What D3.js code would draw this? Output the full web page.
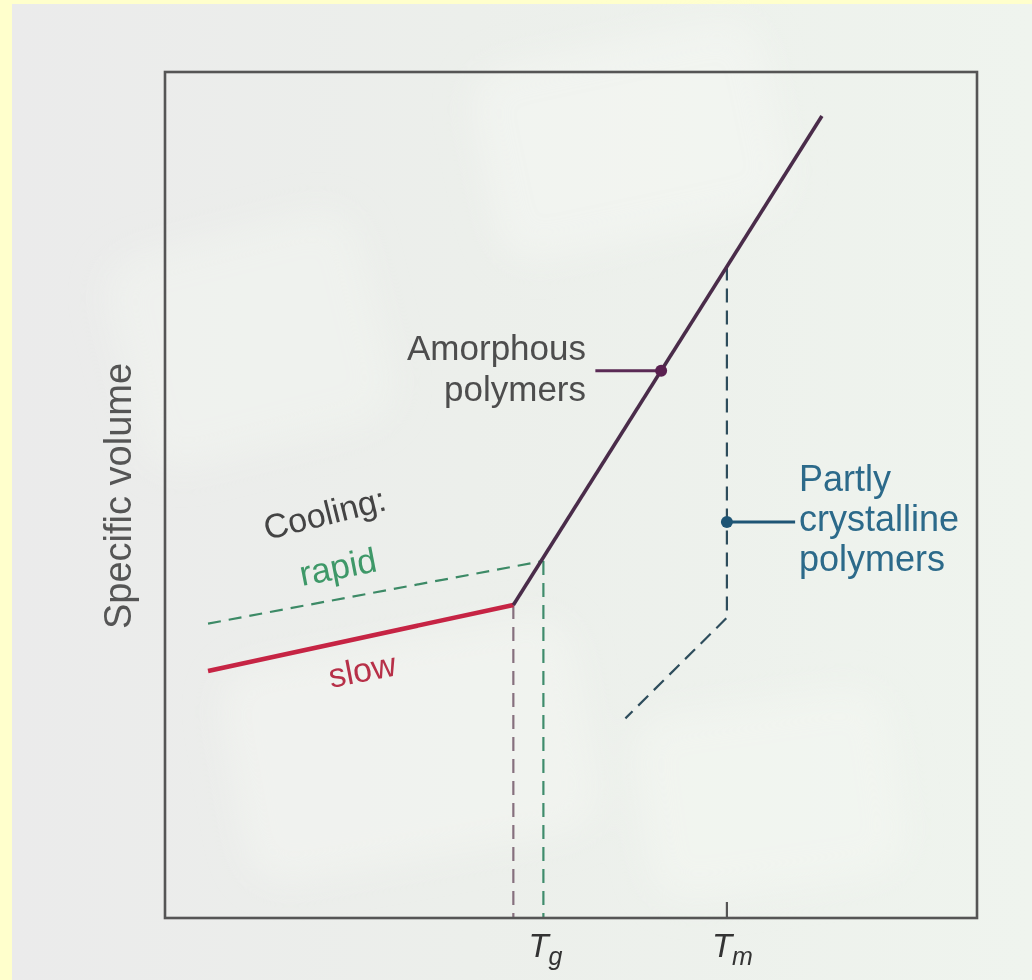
<!DOCTYPE html>
<html>
<head>
<meta charset="utf-8">
<script src="https://cdn.jsdelivr.net/npm/d3@7"></script>
<style>
  html, body { margin: 0; padding: 0; background: #ffffcc; }
  svg { display: block; }
  text { font-family: "Liberation Sans", Arial, sans-serif; }
</style>
</head>
<body>
<svg id="chart" width="1032" height="980"></svg>
<script>
// temperature (x) and specific volume (y), both on a 0-100 arbitrary scale
const slowGlass = [[5.3, 29.2], [42.9, 37.0]]
const rapidGlass = [[5.3, 34.8], [46.6, 42.2]]
const melt = [[42.9, 37.0], [80.9, 94.8]]
const crystalline = [[69.2, 77.0], [69.2, 35.5], [56.7, 23.6]]
const tgSlow = 42.9
const tgRapid = 46.6
const tm = 69.2
const amorphousMark = [61.1, 64.7]
const crystallineMark = [69.2, 46.8]
const xTicks = [{ t: tgRapid, sub: 'g' }, { t: tm, sub: 'm' }]

const svg = d3.select('#chart')

// background panel
const defs = svg.append('defs')
const grad = defs.append('linearGradient')
    .attr('id', 'bg')
    .attr('x1', 0).attr('x2', 1).attr('y1', 0).attr('y2', 0)
grad.append('stop').attr('offset', '0%').attr('stop-color', '#ebebeb')
grad.append('stop').attr('offset', '45%').attr('stop-color', '#ecefeb')
grad.append('stop').attr('offset', '100%').attr('stop-color', '#eff4ee')
defs.append('filter').attr('id', 'blur')
    .append('feGaussianBlur').attr('stdDeviation', 18)

svg.append('rect')
    .attr('x', 12).attr('y', 4)
    .attr('width', 1020).attr('height', 976)
    .attr('fill', 'url(#bg)')

// faint blurry shapes behind the plot
const blobs = svg.append('g').attr('filter', 'url(#blur)').attr('opacity', 0.5)
blobs.append('rect').attr('x', 480).attr('y', 40).attr('width', 300).attr('height', 200)
    .attr('rx', 40).attr('fill', '#f6f8f4').attr('transform', 'rotate(-12 630 140)')
blobs.append('rect').attr('x', 120).attr('y', 230).attr('width', 260).attr('height', 220)
    .attr('rx', 40).attr('fill', '#f3f6f1').attr('transform', 'rotate(-14 250 340)')
blobs.append('rect').attr('x', 230).attr('y', 640).attr('width', 360).attr('height', 220)
    .attr('rx', 40).attr('fill', '#f5f7f3').attr('transform', 'rotate(-10 410 750)')
blobs.append('rect').attr('x', 640).attr('y', 700).attr('width', 260).attr('height', 190)
    .attr('rx', 40).attr('fill', '#f5f8f3').attr('transform', 'rotate(-8 770 800)')

const x = d3.scaleLinear().domain([0, 100]).range([165, 977])
const y = d3.scaleLinear().domain([0, 100]).range([918, 72])
const line = d3.line().x(d => x(d[0])).y(d => y(d[1]))

// dashed drop lines to the T axis
const drops = [
    { pts: [[tgSlow, 37.0], [tgSlow, 0]], color: '#86707e' },
    { pts: [[tgRapid, 42.2], [tgRapid, 0]], color: '#3f8c6c' }
]
svg.selectAll('path.drop')
    .data(drops)
    .enter()
    .append('path')
    .attr('class', 'drop')
    .attr('d', d => line(d.pts))
    .attr('fill', 'none')
    .attr('stroke', d => d.color)
    .attr('stroke-width', 2.2)
    .attr('stroke-dasharray', '14,8')

// rapid cooling (dashed green)
svg.append('path')
    .attr('d', line(rapidGlass))
    .attr('fill', 'none')
    .attr('stroke', '#3c8a66')
    .attr('stroke-width', 2.2)
    .attr('stroke-dasharray', '13,8')

// partly crystalline path
svg.append('path')
    .attr('d', line(crystalline))
    .attr('fill', 'none')
    .attr('stroke', '#2e4d5c')
    .attr('stroke-width', 2.2)
    .attr('stroke-dasharray', '14,8')

// slow cooling (red)
svg.append('path')
    .attr('d', line(slowGlass))
    .attr('fill', 'none')
    .attr('stroke', '#c62444')
    .attr('stroke-width', 4.5)

// melt / rubbery line
svg.append('path')
    .attr('d', line(melt))
    .attr('fill', 'none')
    .attr('stroke', '#4a2c4a')
    .attr('stroke-width', 3.6)

// plot frame
svg.append('rect')
    .attr('x', x(0)).attr('y', y(100))
    .attr('width', x(100) - x(0)).attr('height', y(0) - y(100))
    .attr('fill', 'none')
    .attr('stroke', '#555')
    .attr('stroke-width', 2.6)

// Tm tick
svg.append('line')
    .attr('x1', x(tm)).attr('x2', x(tm))
    .attr('y1', y(0)).attr('y2', y(0) - 16)
    .attr('stroke', '#555')
    .attr('stroke-width', 2.2)

// T labels
const tl = svg.selectAll('text.tlab')
    .data(xTicks)
    .enter()
    .append('text')
    .attr('class', 'tlab')
    .attr('x', d => x(d.t) - 15)
    .attr('y', 957)
    .attr('font-size', 33)
    .attr('font-style', 'italic')
    .attr('fill', '#333')
tl.append('tspan').text('T')
tl.append('tspan')
    .attr('font-size', 25)
    .attr('dy', 8)
    .text(d => d.sub)

// y axis title
svg.append('text')
    .attr('transform', 'translate(131,496) rotate(-90)')
    .attr('text-anchor', 'middle')
    .attr('font-size', 38)
    .attr('fill', '#555')
    .text('Specific volume')

// amorphous label + leader
svg.append('line')
    .attr('x1', x(53.0)).attr('x2', x(amorphousMark[0]))
    .attr('y1', y(amorphousMark[1])).attr('y2', y(amorphousMark[1]))
    .attr('stroke', '#5a2a55')
    .attr('stroke-width', 3)
svg.append('circle')
    .attr('cx', x(amorphousMark[0])).attr('cy', y(amorphousMark[1]))
    .attr('r', 6)
    .attr('fill', '#5a2050')
const amor = svg.append('text')
    .attr('text-anchor', 'end')
    .attr('font-size', 35)
    .attr('fill', '#4d4d4d')
amor.append('tspan').attr('x', 586).attr('y', 360).text('Amorphous')
amor.append('tspan').attr('x', 586).attr('y', 401).text('polymers')

// partly crystalline label + leader
svg.append('line')
    .attr('x1', x(crystallineMark[0])).attr('x2', x(77.6))
    .attr('y1', y(crystallineMark[1])).attr('y2', y(crystallineMark[1]))
    .attr('stroke', '#1e5575')
    .attr('stroke-width', 3)
svg.append('circle')
    .attr('cx', x(crystallineMark[0])).attr('cy', y(crystallineMark[1]))
    .attr('r', 6)
    .attr('fill', '#1e5575')
const part = svg.append('text')
    .attr('font-size', 36)
    .attr('fill', '#2c6a8a')
;['Partly', 'crystalline', 'polymers'].forEach((s, i) => {
    part.append('tspan').attr('x', 799).attr('y', 491 + i * 40).text(s)
})

// cooling labels
svg.append('text')
    .attr('transform', 'translate(267,540) rotate(-14)')
    .attr('font-size', 34)
    .attr('fill', '#444')
    .text('Cooling:')
svg.append('text')
    .attr('transform', 'translate(302,586) rotate(-11)')
    .attr('font-size', 35)
    .attr('fill', '#3e9868')
    .text('rapid')
svg.append('text')
    .attr('transform', 'translate(331,688) rotate(-11)')
    .attr('font-size', 34)
    .attr('fill', '#b73048')
    .text('slow')
</script>
</body>
</html>
